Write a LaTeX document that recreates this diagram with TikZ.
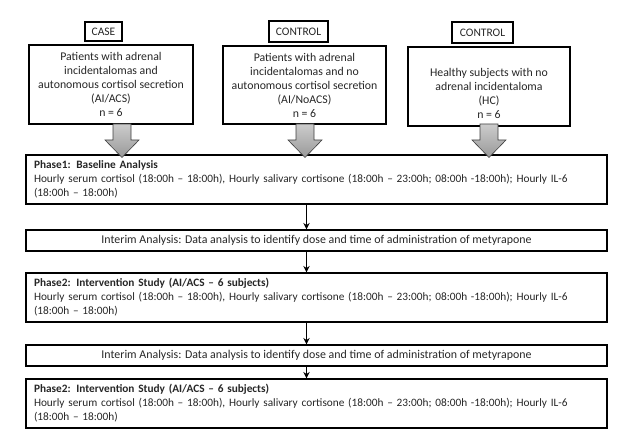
\documentclass[tikz,border=0pt]{standalone}
\usepackage{fontspec}
\setmainfont{Carlito}
\usetikzlibrary{arrows.meta}
\begin{document}
\begin{tikzpicture}[x=1pt,y=-1pt,
  every node/.style={text=black!85},
  topbox/.style={draw, line width=1.1pt, inner sep=0pt, align=center,
    font=\fontsize{11.8}{14}\selectfont},
  labbox/.style={draw, line width=1.7pt, inner sep=0pt,
    font=\fontsize{11.5}{12}\selectfont},
  phasebox/.style={draw, line width=1.2pt, minimum width=581pt, inner xsep=8pt, inner ysep=0pt,
    text width=565pt, align=left, font=\fontsize{11.3}{14}\selectfont},
  interimbox/.style={draw, line width=1.2pt, minimum width=581pt, minimum height=21pt,
    inner sep=0pt, align=center, font=\fontsize{11.9}{12}\selectfont},
  conn/.style={line width=1.1pt, -{Stealth[length=6.5pt,width=6.5pt]}},
  blockarrow/.style={top color=gray!40, bottom color=gray!80, draw=gray!50!black, line width=0.6pt}
]
\useasboundingbox (0,0) rectangle (628,435);

% labels
\node[labbox, minimum width=37pt, minimum height=19pt] (l1) at (103.5,31.5) {CASE};
\node[labbox, minimum width=59pt, minimum height=21pt] (l2) at (298.5,31.5) {CONTROL};
\node[labbox, minimum width=61pt, minimum height=21pt] (l3) at (482.5,32.5) {CONTROL};

% top boxes
\node[topbox, minimum width=164pt, minimum height=79pt] (b1) at (111,84.5)
  {Patients with adrenal\\incidentalomas and\\autonomous cortisol secretion\\(AI/ACS)\\n = 6};
\node[topbox, minimum width=163pt, minimum height=78pt] (b2) at (304.5,85)
  {Patients with adrenal\\incidentalomas and no\\autonomous cortisol secretion\\(AI/NoACS)\\n = 6};
\node[topbox, minimum width=162pt, minimum height=79pt] (b3) at (489,86.5) {};
\node[align=center, inner sep=0pt, font=\fontsize{11.8}{14}\selectfont] (b3t) at (489,93)
  {Healthy subjects with no\\adrenal incidentaloma\\(HC)\\n = 6};

% phase boxes
\node[phasebox, minimum height=49pt] (p1) at (316.5,179.5)
  {\textbf{Phase1: Baseline Analysis}\\Hourly serum cortisol (18:00h – 18:00h), Hourly salivary cortisone (18:00h – 23:00h; 08:00h -18:00h); Hourly IL-6\\(18:00h – 18:00h)};
\node[interimbox] (i1) at (316.5,240.5)
  {Interim Analysis: Data analysis to identify dose and time of administration of metyrapone};
\node[phasebox, minimum height=49pt] (p2) at (316.5,297.5)
  {\textbf{Phase2: Intervention Study (AI/ACS – 6 subjects)}\\Hourly serum cortisol (18:00h – 18:00h), Hourly salivary cortisone (18:00h – 23:00h; 08:00h -18:00h); Hourly IL-6\\(18:00h – 18:00h)};
\node[interimbox] (i2) at (316.5,355.5)
  {Interim Analysis: Data analysis to identify dose and time of administration of metyrapone};
\node[phasebox, minimum height=49pt] (p3) at (316.5,403.5)
  {\textbf{Phase2: Intervention Study (AI/ACS – 6 subjects)}\\Hourly serum cortisol (18:00h – 18:00h), Hourly salivary cortisone (18:00h – 23:00h; 08:00h -18:00h); Hourly IL-6\\(18:00h – 18:00h)};

% block arrows
\foreach \ax in {122,305,489}{
  \shade[blockarrow] (\ax-9,124) -- (\ax-9,140) -- (\ax-17,140) -- (\ax,157.5)
     -- (\ax+17,140) -- (\ax+9,140) -- (\ax+9,124) -- cycle;
}

% thin connectors
\coordinate (ax) at (306.5,0);
\draw[conn] (ax |- p1.south) -- (ax |- i1.north);
\draw[conn] (ax |- i1.south) -- (ax |- p2.north);
\draw[conn] (ax |- p2.south) -- (ax |- i2.north);
\draw[conn] (ax |- i2.south) -- (ax |- p3.north);
\end{tikzpicture}
\end{document}
